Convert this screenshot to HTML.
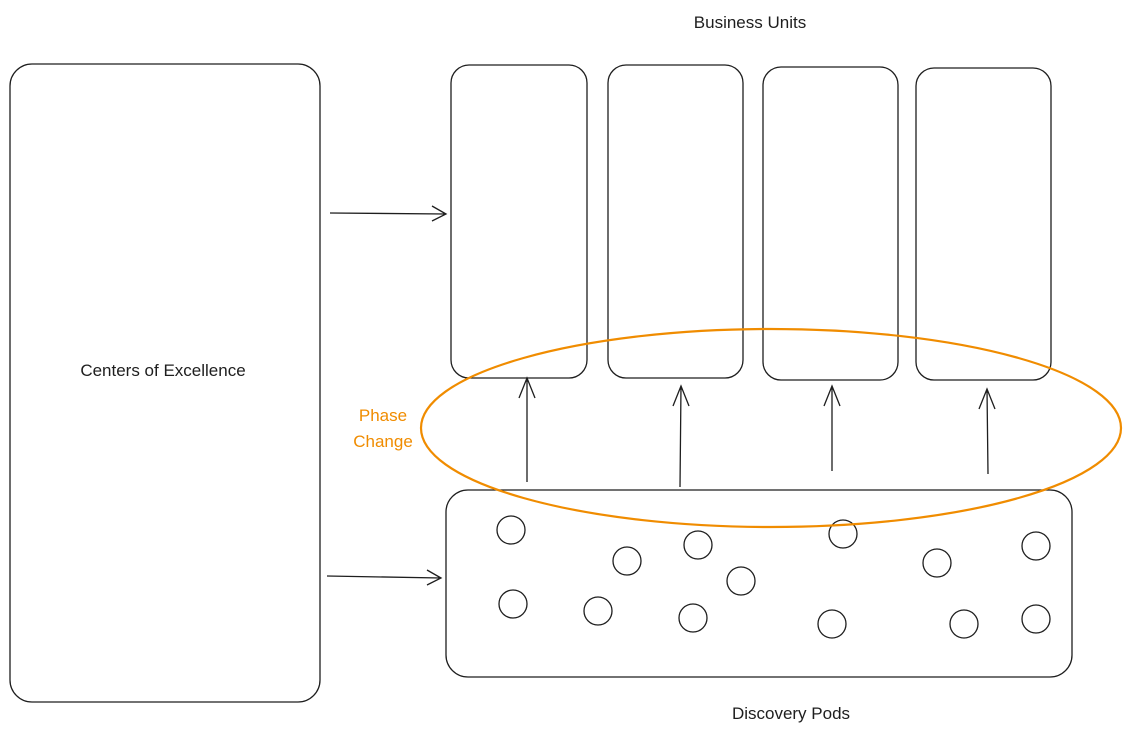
<!DOCTYPE html>
<html><head><meta charset="utf-8"><style>
html,body{margin:0;padding:0;background:#fff;}
svg{display:block}
text{font-family:"Liberation Sans",sans-serif;font-size:17px;fill:#1e1e1e}
</style></head><body>
<svg width="1130" height="736" viewBox="0 0 1130 736" xmlns="http://www.w3.org/2000/svg">
<g fill="none" stroke="#1e1e1e" stroke-width="1.3">
<rect x="10" y="64" width="310" height="638" rx="22"/>
<rect x="451" y="65" width="136" height="313" rx="18"/>
<rect x="608" y="65" width="135" height="313" rx="18"/>
<rect x="763" y="67" width="135" height="313" rx="18"/>
<rect x="916" y="68" width="135" height="312" rx="18"/>
<rect x="446" y="490" width="626" height="187" rx="22"/>
<path d="M330 213 L446 214 M432 206 L446 214 L432 221"/>
<path d="M327 576 L441 578 M427 570 L441 578 L427 585"/>
<path d="M527 482 L527 378 M519 398 L527 378 L535 398"/>
<path d="M680 487 L681 386 M673 406 L681 386 L689 406"/>
<path d="M832 471 L832 386 M824 406 L832 386 L840 406"/>
<path d="M988 474 L987 389 M979 409 L987 389 L995 409"/>
<circle cx="511" cy="530" r="14"/>
<circle cx="627" cy="561" r="14"/>
<circle cx="698" cy="545" r="14"/>
<circle cx="741" cy="581" r="14"/>
<circle cx="843" cy="534" r="14"/>
<circle cx="937" cy="563" r="14"/>
<circle cx="1036" cy="546" r="14"/>
<circle cx="513" cy="604" r="14"/>
<circle cx="598" cy="611" r="14"/>
<circle cx="693" cy="618" r="14"/>
<circle cx="832" cy="624" r="14"/>
<circle cx="964" cy="624" r="14"/>
<circle cx="1036" cy="619" r="14"/>
</g>
<ellipse cx="771" cy="428" rx="350" ry="99" fill="none" stroke="#f08c00" stroke-width="2.2"/>
<text x="163" y="376" text-anchor="middle">Centers of Excellence</text>
<text x="750" y="28" text-anchor="middle">Business Units</text>
<text x="791" y="719" text-anchor="middle">Discovery Pods</text>
<text x="383" y="421" text-anchor="middle" style="fill:#f08c00">Phase</text>
<text x="383" y="447" text-anchor="middle" style="fill:#f08c00">Change</text>
</svg>
</body></html>
